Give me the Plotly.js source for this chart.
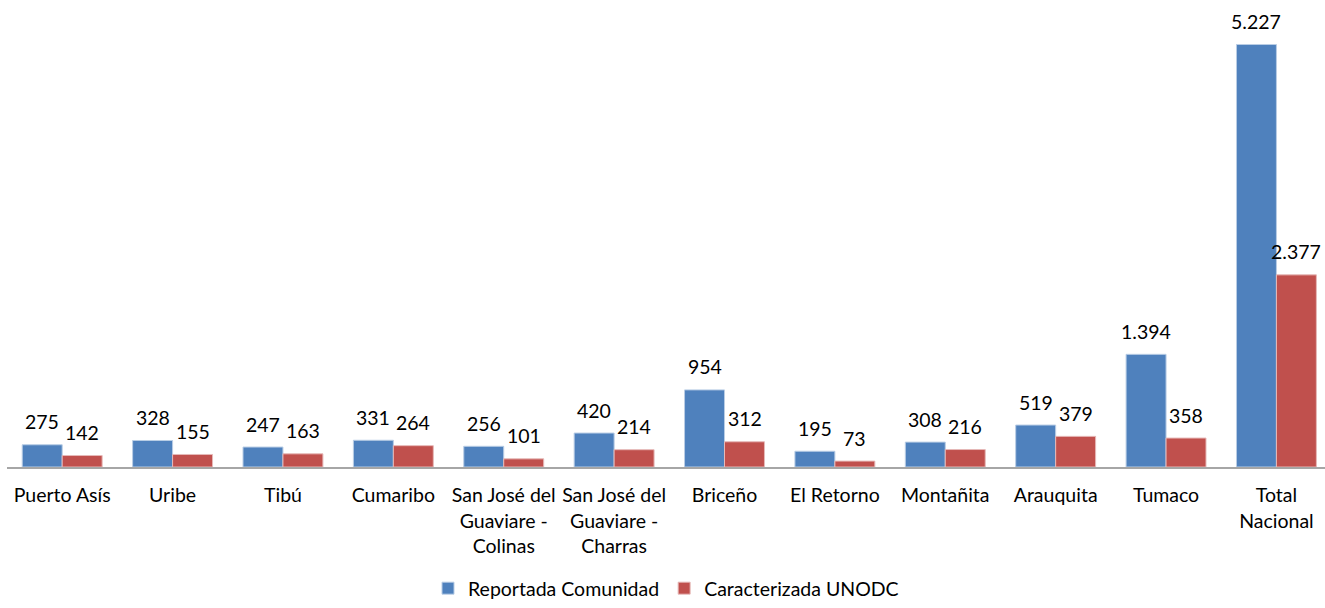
<!DOCTYPE html>
<html>
<head>
<meta charset="utf-8">
<script src="https://cdn.plot.ly/plotly-3.0.1.min.js"></script>
<style>html,body{margin:0;padding:0;background:#fff;}#chart{width:1325px;height:608px;}</style>
</head>
<body>
<div id="chart"></div>
<script>
const categories = ["Puerto Asís", "Uribe", "Tibú", "Cumaribo", "San José del<br>Guaviare -<br>Colinas", "San José del<br>Guaviare -<br>Charras", "Briceño", "El Retorno", "Montañita", "Arauquita", "Tumaco", "Total<br>Nacional"];
const reportada = [275, 328, 247, 331, 256, 420, 954, 195, 308, 519, 1394, 5227];
const caracterizada = [142, 155, 163, 264, 101, 214, 312, 73, 216, 379, 358, 2377];
const seriesNames = ["Reportada Comunidad", "Caracterizada UNODC"];

const FONT = "Lato, 'Open Sans', sans-serif";
const FS = 19.5;
function fmt(v) { return String(v).replace(/\B(?=(\d{3})+(?!\d))/g, "."); }

const traces = [
  {type: "bar", name: seriesNames[0], x: categories, y: reportada,
   marker: {color: "#4F81BD", line: {color: "#B9CDE5", width: 1}}, hoverinfo: "y"},
  {type: "bar", name: seriesNames[1], x: categories, y: caracterizada,
   marker: {color: "#C0504D", line: {color: "#E6B9B8", width: 1}}, hoverinfo: "y"}
];

const annotations = [];
categories.forEach((c, i) => {
  annotations.push({x: c, y: reportada[i], text: fmt(reportada[i]), xref: "x", yref: "y",
    xshift: -20, yshift: 23, yanchor: "middle", showarrow: false,
    font: {family: FONT, size: FS, color: "#000"}});
  annotations.push({x: c, y: caracterizada[i], text: fmt(caracterizada[i]), xref: "x", yref: "y",
    xshift: 20, yshift: 23, yanchor: "middle", showarrow: false,
    font: {family: FONT, size: FS, color: "#000"}});
});

const layout = {
  width: 1325, height: 608,
  margin: {l: 7, r: 0, t: 10, b: 141},
  paper_bgcolor: "#fff", plot_bgcolor: "#fff",
  barmode: "group", bargap: 0.276, bargroupgap: 0,
  font: {family: FONT, size: FS, color: "#000"},
  xaxis: {type: "category", range: [-0.5, 11.44], showgrid: false, zeroline: false,
    showline: true, linecolor: "#A6A6A6", linewidth: 2, ticks: "",
    tickfont: {family: FONT, size: FS, color: "#000"}, ticklabelstandoff: 10, fixedrange: true},
  yaxis: {range: [0, 5654], showgrid: false, zeroline: false, showline: false,
    showticklabels: false, ticks: "", fixedrange: true},
  showlegend: true,
  legend: {orientation: "h", x: 0.5, xanchor: "center", yref: "container", y: 0, yanchor: "bottom",
    font: {family: FONT, size: FS, color: "#000"}, itemwidth: 30, traceorder: "normal"},
  annotations: annotations
};

Plotly.newPlot("chart", traces, layout, {displayModeBar: false, staticPlot: true});
</script>
</body>
</html>
